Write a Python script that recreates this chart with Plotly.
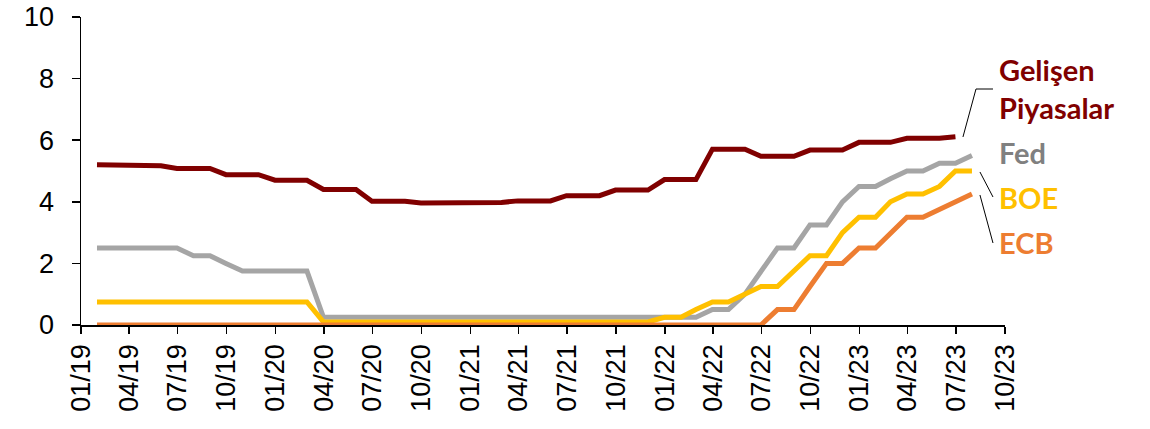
import pandas as pd
import plotly.graph_objects as go

# Month-end dates Jan 2019 .. Jul 2023
dates = pd.date_range("2019-01-31", periods=55, freq="ME")

gelisen = [5.20, 5.20, 5.17, 5.17, 5.17, 5.08, 5.08, 5.08, 4.88, 4.88,
           4.88, 4.70, 4.70, 4.70, 4.40, 4.40, 4.40, 4.02, 4.02, 4.02,
           3.96, 3.96, 3.97, 3.98, 3.98, 3.98, 4.03, 4.03, 4.03, 4.20,
           4.20, 4.20, 4.38, 4.38, 4.38, 4.72, 4.72, 4.72, 5.71, 5.71,
           5.71, 5.48, 5.48, 5.48, 5.68, 5.68, 5.68, 5.93, 5.93, 5.93,
           6.06, 6.06, 6.06, 6.11]

fed = [2.5] * 6 + [2.25, 2.25, 2.0] + [1.75] * 5 + [0.25] * 24 + \
      [0.5, 0.5, 1.0, 1.75, 2.5, 2.5, 3.25, 3.25, 4.0, 4.5, 4.5, 4.75,
       5.0, 5.0, 5.25, 5.25, 5.5]

boe = [0.75] * 14 + [0.1] * 21 + \
      [0.25, 0.25, 0.5, 0.75, 0.75, 1.0, 1.25, 1.25, 1.75, 2.25, 2.25,
       3.0, 3.5, 3.5, 4.0, 4.25, 4.25, 4.5, 5.0, 5.0]

ecb = [0.0] * 42 + [0.5, 0.5, 1.25, 2.0, 2.0, 2.5, 2.5, 3.0, 3.5, 3.5,
                    3.75, 4.0, 4.25]

series_names = ["Gelişen<br>Piyasalar", "Fed", "BOE", "ECB"]
line_colors = ["#800000", "#A5A5A5", "#FFC000", "#ED7D31"]
text_colors = ["#800000", "#808080", "#FFC000", "#ED7D31"]
y_ticks = [0, 2, 4, 6, 8, 10]

fig = go.Figure()
for name, ys, col in zip(series_names, [gelisen, fed, boe, ecb], line_colors):
    fig.add_trace(go.Scatter(
        x=dates[:len(ys)], y=ys, mode="lines", name=name,
        line=dict(color=col, width=5), showlegend=False, hoverinfo="skip",
    ))

W, H = 1150, 429
# plot-area edges in pixels
L, R, T, B = 81, 1005, 17, 325


def px(x):
    return (x - L) / (R - L)


def py(y):
    return (B - y) / (B - T)


label_y = [88, 152, 197, 242]
for name, col, yy in zip(series_names, text_colors, label_y):
    fig.add_annotation(
        x=px(997), y=py(yy), xref="paper", yref="paper",
        text="<b>" + name + "</b>", showarrow=False,
        xanchor="left", yanchor="middle", align="left",
        font=dict(family="Lato, Open Sans, sans-serif", size=29, color=col),
    )

leaders = [
    [(963, 137), (976, 89), (993, 89)],
    [(980, 172), (993, 197)],
    [(980, 195), (993, 243)],
]
for pts in leaders:
    path = "M " + " L ".join(f"{px(a):.4f},{py(b):.4f}" for a, b in pts)
    fig.add_shape(type="path", path=path, xref="paper", yref="paper",
                  line=dict(color="black", width=1))

fig.update_layout(
    width=W, height=H,
    margin=dict(l=L, r=W - R, t=T, b=H - B, pad=0, autoexpand=False),
    paper_bgcolor="white", plot_bgcolor="white",
    font=dict(family="Liberation Sans, Arial, sans-serif", size=27, color="black"),
    hovermode=False,
)
fig.update_xaxes(
    type="date", range=["2019-01-01", "2023-10-01"],
    tick0="2019-01-01", dtick="M3", tickformat="%m/%y", tickangle=-90,
    showgrid=False, zeroline=False, showline=True, linecolor="black",
    linewidth=1.5, ticks="outside", ticklen=7, tickwidth=1.5, tickcolor="black",
    tickfont=dict(size=27), automargin=False, ticklabeloverflow="allow",
)
fig.update_yaxes(
    range=[0, 10], tickvals=y_ticks, ticktext=[str(v) for v in y_ticks],
    showgrid=False, zeroline=False, showline=True, linecolor="black",
    linewidth=1.5, ticks="outside", ticklen=8, tickwidth=1.5, tickcolor="black",
    tickfont=dict(size=27), automargin=False, ticklabelstandoff=12,
    ticklabeloverflow="allow",
)

fig.write_html(
    "out.html",
    config={"displayModeBar": False, "staticPlot": True},
    post_script="document.body.style.margin='0';document.body.style.overflow='hidden';",
)
